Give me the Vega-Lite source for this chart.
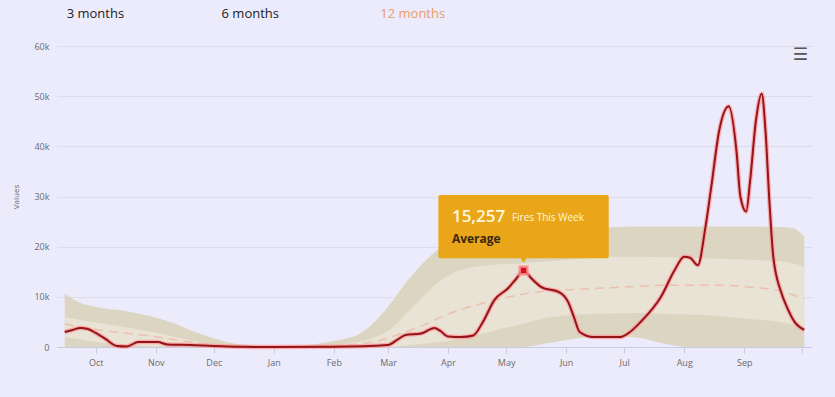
{
  "$schema": "https://vega.github.io/schema/vega-lite/v6.json",
  "width": 755,
  "height": 301,
  "autosize": {"type": "none"},
  "padding": {"left": 57, "top": 46, "right": 23, "bottom": 50},
  "background": "#ecebfc",
  "config": {
    "view": {"stroke": null},
    "font": "Open Sans",
    "axisX": {"grid": false, "domainColor": "#c9cce0", "tickColor": "#c9cce0", "tickSize": 6, "labelColor": "#6b6b6b", "labelFontSize": 9, "labelPadding": 5, "labelFlush": false},
    "axisY": {"grid": true, "gridColor": "#dcdcec", "domain": false, "ticks": false, "labelColor": "#6b6b6b", "labelFontSize": 9, "labelPadding": 8, "titleFontSize": 8, "titleFontWeight": "normal", "titleColor": "#6b6b6b", "titlePadding": 13}
  },
  "datasets": {
    "bands": [
      {"date": "2018-09-15", "max": 10600, "q75": 6000, "median": 4600, "q25": 2000, "min": 0},
      {"date": "2018-09-23", "max": 8800, "q75": 5400, "median": 4000, "q25": 1500, "min": 0},
      {"date": "2018-10-03", "max": 7800, "q75": 4800, "median": 3400, "q25": 900, "min": 0},
      {"date": "2018-10-16", "max": 7200, "q75": 4000, "median": 2800, "q25": 400, "min": 0},
      {"date": "2018-10-29", "max": 6200, "q75": 3100, "median": 2200, "q25": 150, "min": 0},
      {"date": "2018-11-10", "max": 4800, "q75": 2100, "median": 1500, "q25": 50, "min": 0},
      {"date": "2018-11-22", "max": 2900, "q75": 1100, "median": 800, "q25": 0, "min": 0},
      {"date": "2018-12-04", "max": 1400, "q75": 500, "median": 350, "q25": 0, "min": 0},
      {"date": "2018-12-15", "max": 500, "q75": 200, "median": 120, "q25": 0, "min": 0},
      {"date": "2019-01-01", "max": 200, "q75": 80, "median": 50, "q25": 0, "min": 0},
      {"date": "2019-01-14", "max": 250, "q75": 100, "median": 50, "q25": 0, "min": 0},
      {"date": "2019-01-26", "max": 800, "q75": 300, "median": 150, "q25": 0, "min": 0},
      {"date": "2019-02-06", "max": 1600, "q75": 600, "median": 350, "q25": 0, "min": 0},
      {"date": "2019-02-13", "max": 2400, "q75": 1000, "median": 600, "q25": 0, "min": 0},
      {"date": "2019-02-21", "max": 4600, "q75": 1800, "median": 1000, "q25": 0, "min": 0},
      {"date": "2019-03-02", "max": 8500, "q75": 3500, "median": 1900, "q25": 0, "min": 0},
      {"date": "2019-03-10", "max": 12700, "q75": 6500, "median": 3000, "q25": 300, "min": 0},
      {"date": "2019-03-19", "max": 16700, "q75": 10000, "median": 4300, "q25": 600, "min": 0},
      {"date": "2019-03-28", "max": 19800, "q75": 13200, "median": 5900, "q25": 1000, "min": 0},
      {"date": "2019-04-07", "max": 21800, "q75": 15300, "median": 7400, "q25": 1600, "min": 0},
      {"date": "2019-04-22", "max": 23000, "q75": 16300, "median": 9000, "q25": 3000, "min": 0},
      {"date": "2019-05-09", "max": 23200, "q75": 16700, "median": 10500, "q25": 4600, "min": 0},
      {"date": "2019-05-23", "max": 23300, "q75": 17100, "median": 11200, "q25": 5900, "min": 800},
      {"date": "2019-06-08", "max": 23500, "q75": 17600, "median": 11500, "q25": 6500, "min": 1800},
      {"date": "2019-06-23", "max": 23800, "q75": 18000, "median": 11800, "q25": 6700, "min": 2200},
      {"date": "2019-07-09", "max": 24000, "q75": 18000, "median": 12100, "q25": 6800, "min": 1800},
      {"date": "2019-07-24", "max": 24000, "q75": 17900, "median": 12300, "q25": 6600, "min": 500},
      {"date": "2019-08-04", "max": 24000, "q75": 17800, "median": 12300, "q25": 6500, "min": 0},
      {"date": "2019-08-19", "max": 24000, "q75": 17600, "median": 12300, "q25": 6200, "min": 0},
      {"date": "2019-09-04", "max": 24000, "q75": 17400, "median": 11900, "q25": 5600, "min": 0},
      {"date": "2019-09-19", "max": 23900, "q75": 17100, "median": 11200, "q25": 5000, "min": 0},
      {"date": "2019-09-26", "max": 23700, "q75": 16700, "median": 10400, "q25": 4500, "min": 0},
      {"date": "2019-10-02", "max": 22000, "q75": 16000, "median": 9600, "q25": 4000, "min": 0}
    ],
    "fires": [
      {"date": "2018-09-15", "value": 3000},
      {"date": "2018-09-19", "value": 3400},
      {"date": "2018-09-23", "value": 3800},
      {"date": "2018-09-27", "value": 3600},
      {"date": "2018-10-01", "value": 2800},
      {"date": "2018-10-06", "value": 1600},
      {"date": "2018-10-12", "value": 200},
      {"date": "2018-10-17", "value": 100},
      {"date": "2018-10-23", "value": 1000},
      {"date": "2018-11-02", "value": 1000},
      {"date": "2018-11-07", "value": 500},
      {"date": "2018-11-19", "value": 400},
      {"date": "2018-12-01", "value": 200},
      {"date": "2018-12-15", "value": 50},
      {"date": "2019-01-01", "value": 0},
      {"date": "2019-02-01", "value": 50},
      {"date": "2019-03-01", "value": 400},
      {"date": "2019-03-06", "value": 1500},
      {"date": "2019-03-10", "value": 2400},
      {"date": "2019-03-18", "value": 2700},
      {"date": "2019-03-25", "value": 3800},
      {"date": "2019-03-28", "value": 3200},
      {"date": "2019-04-01", "value": 2100},
      {"date": "2019-04-08", "value": 2000},
      {"date": "2019-04-14", "value": 2300},
      {"date": "2019-04-19", "value": 5000},
      {"date": "2019-04-25", "value": 9400},
      {"date": "2019-05-02", "value": 11700},
      {"date": "2019-05-06", "value": 13500},
      {"date": "2019-05-10", "value": 15257},
      {"date": "2019-05-14", "value": 13700},
      {"date": "2019-05-19", "value": 12000},
      {"date": "2019-05-29", "value": 10800},
      {"date": "2019-06-02", "value": 9000},
      {"date": "2019-06-05", "value": 6000},
      {"date": "2019-06-08", "value": 3000},
      {"date": "2019-06-15", "value": 2000},
      {"date": "2019-06-29", "value": 2000},
      {"date": "2019-07-04", "value": 3000},
      {"date": "2019-07-09", "value": 4800},
      {"date": "2019-07-20", "value": 10000},
      {"date": "2019-07-27", "value": 15300},
      {"date": "2019-08-01", "value": 18000},
      {"date": "2019-08-04", "value": 17800},
      {"date": "2019-08-08", "value": 16300},
      {"date": "2019-08-12", "value": 24000},
      {"date": "2019-08-15", "value": 32000},
      {"date": "2019-08-19", "value": 43000},
      {"date": "2019-08-24", "value": 48000},
      {"date": "2019-08-28", "value": 39000},
      {"date": "2019-08-30", "value": 30000},
      {"date": "2019-09-02", "value": 27000},
      {"date": "2019-09-04", "value": 33000},
      {"date": "2019-09-07", "value": 45000},
      {"date": "2019-09-10", "value": 50500},
      {"date": "2019-09-12", "value": 43000},
      {"date": "2019-09-14", "value": 29000},
      {"date": "2019-09-16", "value": 18000},
      {"date": "2019-09-20", "value": 11000},
      {"date": "2019-09-23", "value": 8000},
      {"date": "2019-09-27", "value": 5000},
      {"date": "2019-10-02", "value": 3400}
    ]
  },
  "layer": [
    {
      "data": {"name": "bands"},
      "mark": {"type": "area", "interpolate": "monotone", "color": "#dbd5c1"},
      "encoding": {
        "x": {"field": "date", "type": "temporal", "title": null,
          "scale": {"domain": [{"year": 2018, "month": 9, "date": 11}, {"year": 2019, "month": 10, "date": 6}]},
          "axis": {"format": "%b", "tickCount": {"interval": "month", "step": 1}, "title": null,
            "labelExpr": "month(datum.value) == 9 && year(datum.value) == 2019 ? '' : timeFormat(datum.value, '%b')"}},
        "y": {"field": "max", "type": "quantitative", "title": "Values",
          "scale": {"domain": [0, 60000], "nice": false},
          "axis": {"values": [0, 10000, 20000, 30000, 40000, 50000, 60000], "title": "Values",
            "labelExpr": "datum.value == 0 ? '0' : (datum.value / 1000) + 'k'"}},
        "y2": {"field": "min"}
      }
    },
    {
      "data": {"name": "bands"},
      "mark": {"type": "area", "interpolate": "monotone", "color": "#e8e3d5"},
      "encoding": {
        "x": {"field": "date", "type": "temporal", "title": null},
        "y": {"field": "q75", "type": "quantitative", "title": "Values"},
        "y2": {"field": "q25"}
      }
    },
    {
      "data": {"name": "bands"},
      "mark": {"type": "line", "interpolate": "monotone", "color": "#ebc0ad", "strokeWidth": 1.5, "strokeDash": [9, 6]},
      "encoding": {
        "x": {"field": "date", "type": "temporal", "title": null},
        "y": {"field": "median", "type": "quantitative", "title": "Values"}
      }
    },
    {
      "data": {"name": "fires"},
      "mark": {"type": "line", "interpolate": "monotone", "color": "#ff9a9a", "strokeWidth": 4.5, "opacity": 0.75},
      "encoding": {
        "x": {"field": "date", "type": "temporal", "title": null},
        "y": {"field": "value", "type": "quantitative", "title": "Values"}
      }
    },
    {
      "data": {"name": "fires"},
      "mark": {"type": "line", "interpolate": "monotone", "color": "#931419", "strokeWidth": 2},
      "encoding": {
        "x": {"field": "date", "type": "temporal", "title": null},
        "y": {"field": "value", "type": "quantitative", "title": "Values"}
      }
    },
    {
      "data": {"values": [{}]},
      "mark": {"type": "rect", "color": "#e8a618", "cornerRadius": 2},
      "encoding": {
        "x": {"datum": {"year": 2019, "month": 3, "date": 27}, "type": "temporal", "title": null},
        "x2": {"datum": {"year": 2019, "month": 6, "date": 23}},
        "y": {"datum": 30300, "type": "quantitative", "title": "Values"},
        "y2": {"datum": 17700}
      }
    },
    {
      "data": {"values": [{}]},
      "mark": {"type": "point", "shape": "triangle-down", "filled": true, "color": "#e8a618", "size": 45, "opacity": 1},
      "encoding": {
        "x": {"datum": {"year": 2019, "month": 5, "date": 10}, "type": "temporal", "title": null},
        "y": {"datum": 17300, "type": "quantitative", "title": "Values"}
      }
    },
    {
      "data": {"values": [{}]},
      "mark": {"type": "point", "shape": "square", "filled": true, "fill": "#d0121a", "stroke": "#ff9e9e", "strokeWidth": 3, "strokeOpacity": 0.7, "size": 64, "opacity": 1},
      "encoding": {
        "x": {"datum": {"year": 2019, "month": 5, "date": 10}, "type": "temporal", "title": null},
        "y": {"datum": 15257, "type": "quantitative", "title": "Values"}
      }
    },
    {
      "data": {"values": [{}]},
      "mark": {"type": "text", "text": "15,257", "align": "left", "baseline": "alphabetic", "fontSize": 17, "fontWeight": 600, "color": "#fff6dd"},
      "encoding": {
        "x": {"datum": {"year": 2019, "month": 4, "date": 3}, "type": "temporal", "title": null},
        "y": {"datum": 24900, "type": "quantitative", "title": "Values"}
      }
    },
    {
      "data": {"values": [{}]},
      "mark": {"type": "text", "text": "Fires This Week", "align": "left", "baseline": "alphabetic", "fontSize": 10, "color": "#fff6dd"},
      "encoding": {
        "x": {"datum": {"year": 2019, "month": 5, "date": 4}, "type": "temporal", "title": null},
        "y": {"datum": 25100, "type": "quantitative", "title": "Values"}
      }
    },
    {
      "data": {"values": [{}]},
      "mark": {"type": "text", "text": "Average", "align": "left", "baseline": "alphabetic", "fontSize": 12, "fontWeight": "bold", "color": "#3a2612"},
      "encoding": {
        "x": {"datum": {"year": 2019, "month": 4, "date": 3}, "type": "temporal", "title": null},
        "y": {"datum": 20700, "type": "quantitative", "title": "Values"}
      }
    },
    {
      "data": {"values": [{}]},
      "mark": {"type": "text", "text": "3 months", "align": "left", "baseline": "alphabetic", "fontSize": 13, "color": "#222222"},
      "encoding": {
        "x": {"datum": {"year": 2018, "month": 9, "date": 16}, "type": "temporal", "title": null},
        "y": {"datum": 65600, "type": "quantitative", "title": "Values"}
      }
    },
    {
      "data": {"values": [{}]},
      "mark": {"type": "text", "text": "6 months", "align": "left", "baseline": "alphabetic", "fontSize": 13, "color": "#222222"},
      "encoding": {
        "x": {"datum": {"year": 2018, "month": 12, "date": 5}, "type": "temporal", "title": null},
        "y": {"datum": 65600, "type": "quantitative", "title": "Values"}
      }
    },
    {
      "data": {"values": [{}]},
      "mark": {"type": "text", "text": "12 months", "align": "left", "baseline": "alphabetic", "fontSize": 13, "color": "#e89c66"},
      "encoding": {
        "x": {"datum": {"year": 2019, "month": 2, "date": 25}, "type": "temporal", "title": null},
        "y": {"datum": 65600, "type": "quantitative", "title": "Values"}
      }
    },
    {
      "data": {"values": [{}]},
      "mark": {"type": "text", "text": "☰", "align": "center", "baseline": "middle", "fontSize": 17, "fontWeight": "bold", "font": "DejaVu Sans", "color": "#555555"},
      "encoding": {
        "x": {"datum": {"year": 2019, "month": 9, "date": 30}, "type": "temporal", "title": null},
        "y": {"datum": 58200, "type": "quantitative", "title": "Values"}
      }
    }
  ]
}
